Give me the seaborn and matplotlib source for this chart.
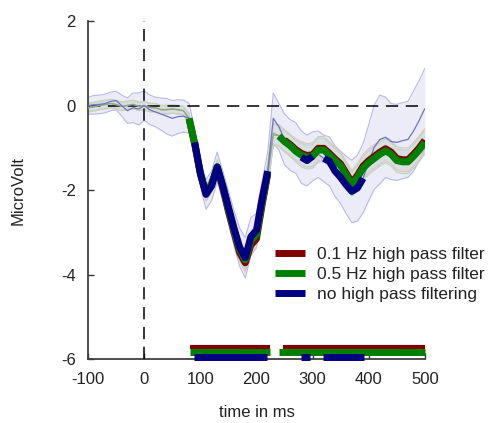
import numpy as np
import pandas as pd
import matplotlib
matplotlib.use("Agg")
import matplotlib.pyplot as plt
from matplotlib.lines import Line2D
import seaborn as sns

# ---------------- data ----------------
time_ms = list(range(-100, 501, 10))

v_nohp = [0.00, 0.02, 0.03, 0.05, 0.10, 0.12, 0.00, -0.12, -0.05, -0.08,
          0.00, -0.10, -0.15, -0.20, -0.25, -0.30, -0.26, -0.25, -0.30, -0.87,
          -1.60, -2.10, -1.90, -1.45, -1.90, -2.40, -2.90, -3.35, -3.60, -3.10,
          -2.95, -2.20, -1.55, -0.30, -0.50, -0.80, -0.93, -1.00, -1.22, -1.30,
          -1.20, -1.15, -1.25, -1.32, -1.55, -1.70, -1.88, -2.03, -1.95, -1.72,
          -1.35, -0.98, -0.80, -0.75, -0.85, -0.87, -0.83, -0.80, -0.60, -0.35,
          -0.07]

v_05 = [-0.05, -0.03, 0.00, 0.02, 0.05, 0.03, -0.02, 0.00, 0.03, -0.02,
        0.00, -0.05, -0.05, -0.10, -0.10, -0.08, -0.10, -0.12, -0.30, -0.90,
        -1.60, -2.05, -1.85, -1.45, -1.90, -2.45, -2.95, -3.40, -3.65, -3.20,
        -3.05, -2.30, -1.60, -0.65, -0.72, -0.85, -0.95, -1.08, -1.17, -1.22,
        -1.20, -1.05, -1.05, -1.17, -1.30, -1.42, -1.65, -1.87, -1.70, -1.48,
        -1.35, -1.25, -1.15, -1.07, -1.15, -1.30, -1.33, -1.33, -1.20, -1.05,
        -0.87]

v_01 = [-0.04, -0.02, 0.01, 0.03, 0.05, 0.02, -0.02, 0.01, 0.03, -0.01,
        0.00, -0.04, -0.05, -0.09, -0.09, -0.08, -0.09, -0.12, -0.32, -0.92,
        -1.62, -2.08, -1.88, -1.47, -1.95, -2.50, -3.00, -3.48, -3.72, -3.30,
        -3.15, -2.35, -1.62, -0.70, -0.70, -0.82, -0.92, -1.04, -1.13, -1.18,
        -1.16, -1.01, -1.01, -1.13, -1.26, -1.38, -1.60, -1.82, -1.65, -1.43,
        -1.30, -1.20, -1.10, -1.02, -1.10, -1.25, -1.28, -1.28, -1.15, -1.00,
        -0.82]

ci_nohp = [0.20, 0.22, 0.22, 0.22, 0.22, 0.22, 0.25, 0.30, 0.35, 0.38,
           0.35, 0.35, 0.35, 0.38, 0.42, 0.42, 0.40, 0.38, 0.35, 0.30,
           0.30, 0.35, 0.35, 0.35, 0.35, 0.38, 0.42, 0.45, 0.48, 0.45,
           0.40, 0.40, 0.45, 0.60, 0.55, 0.60, 0.60, 0.60, 0.62, 0.60,
           0.58, 0.55, 0.55, 0.58, 0.60, 0.62, 0.68, 0.74, 0.78, 0.82,
           0.90, 1.00, 1.05, 0.95, 0.90, 0.90, 0.90, 0.90, 0.95, 0.95,
           0.95]

ci_05 = [0.10, 0.10, 0.10, 0.10, 0.10, 0.10, 0.10, 0.10, 0.10, 0.10,
         0.10, 0.10, 0.10, 0.10, 0.10, 0.10, 0.10, 0.10, 0.12, 0.15,
         0.15, 0.18, 0.18, 0.18, 0.18, 0.18, 0.20, 0.20, 0.22, 0.22,
         0.22, 0.22, 0.22, 0.25, 0.25, 0.25, 0.25, 0.25, 0.28, 0.28,
         0.28, 0.28, 0.28, 0.28, 0.28, 0.28, 0.28, 0.28, 0.28, 0.28,
         0.28, 0.28, 0.28, 0.28, 0.28, 0.28, 0.28, 0.28, 0.28, 0.28,
         0.28]

ci_01 = [0.10, 0.10, 0.10, 0.10, 0.10, 0.10, 0.10, 0.10, 0.10, 0.10,
         0.10, 0.10, 0.10, 0.10, 0.10, 0.10, 0.10, 0.10, 0.12, 0.15,
         0.15, 0.18, 0.18, 0.18, 0.18, 0.18, 0.20, 0.20, 0.22, 0.22,
         0.22, 0.22, 0.22, 0.25, 0.25, 0.25, 0.25, 0.25, 0.28, 0.28,
         0.28, 0.28, 0.28, 0.28, 0.28, 0.28, 0.28, 0.28, 0.28, 0.28,
         0.28, 0.28, 0.28, 0.28, 0.28, 0.28, 0.28, 0.28, 0.28, 0.28,
         0.28]

sig_01 = [(82, 225), (248, 500)]
sig_05 = [(82, 225), (241, 500)]
sig_nohp = [(89, 218), (280, 296), (319, 391)]

labels = ["0.1 Hz high pass filter", "0.5 Hz high pass filter", "no high pass filtering"]
colors = ["#800000", "#008000", "#000080"]

x_ticks = [-100, 0, 100, 200, 300, 400, 500]
y_ticks = [-6, -4, -2, 0, 2]

# ---------------- style ----------------
sns.set_theme(style="ticks")
plt.rcParams["font.family"] = ["Liberation Sans", "DejaVu Sans"]

fig = plt.figure(figsize=(4.98, 4.23), dpi=100)
ax = fig.add_axes([0.177, 0.151, 0.676, 0.799])

t = np.array(time_ms)
series = [np.array(v_01), np.array(v_05), np.array(v_nohp)]
cis = [np.array(ci_01), np.array(ci_05), np.array(ci_nohp)]
sigs = [sig_01, sig_05, sig_nohp]

# confidence bands: no-HP first (widest), then the others
band_face = ["#b0b0a8", "#9cbc9c", "#a0a0e0"]
band_alpha = [0.12, 0.14, 0.2]
band_edge = ["#e0c4c4", "#bcd8bc", "#b8b8e8"]
for i in [2, 0, 1]:
    lo = series[i] - cis[i]
    hi = series[i] + cis[i]
    ax.fill_between(t, lo, hi, color=band_face[i], alpha=band_alpha[i], lw=0, zorder=1)
    sns.lineplot(x=t, y=lo, ax=ax, color=band_edge[i], lw=0.8, zorder=2)
    sns.lineplot(x=t, y=hi, ax=ax, color=band_edge[i], lw=0.8, zorder=2)

# reference dashed lines
ax.axhline(0, color="black", lw=1.1, ls=(0, (8, 5)), zorder=3)
ax.axvline(0, color="black", lw=1.1, ls=(0, (8, 5)), zorder=3)

# thin full-length lines
thin_col = ["#c89090", "#80b080", "#7070c8"]
for i in range(3):
    sns.lineplot(x=t, y=series[i], ax=ax, color=thin_col[i], lw=0.9, zorder=4)

# thick lines where significant
for i in range(3):
    for (s, e) in sigs[i]:
        s10 = int(round(s / 10.0)) * 10
        e10 = int(round(e / 10.0)) * 10
        m = (t >= s10) & (t <= e10)
        sns.lineplot(x=t[m], y=series[i][m], ax=ax, color=colors[i], lw=5,
                     zorder=5 + i, solid_capstyle="butt")

# significance bars at bottom
bar_y = [-5.72, -5.84, -5.95]
bar_lw = [3.0, 5.0, 5.0]
for i in range(3):
    for (s, e) in sigs[i]:
        ax.plot([s, e], [bar_y[i], bar_y[i]], color=colors[i], lw=bar_lw[i],
                solid_capstyle="butt", clip_on=False, zorder=10 + i)

ax.set_xlim(-100, 500)
ax.set_ylim(-6, 2)
ax.set_xticks(x_ticks)
ax.set_yticks(y_ticks)
ax.set_xticklabels([str(v) for v in x_ticks])
ax.set_yticklabels([str(v) for v in y_ticks])
ax.tick_params(direction="in", length=4, width=1.0, color="#333333",
               labelsize=12, labelcolor="#222222", pad=9)
for side in ["top", "right"]:
    ax.spines[side].set_visible(False)
for side in ["left", "bottom"]:
    ax.spines[side].set_color("#404040")
    ax.spines[side].set_linewidth(1.3)
ax.grid(False)

ax.set_xlabel("time in ms", fontsize=12, color="#222222", labelpad=13)
ax.set_ylabel("MicroVolt", fontsize=12, color="#222222", labelpad=25)

handles = [Line2D([0], [0], color=c, lw=5, solid_capstyle="butt") for c in colors]
leg = ax.legend(handles, labels, loc="upper left", bbox_to_anchor=(0.555, 0.333),
                frameon=False, fontsize=12.5, handlelength=1.75, handletextpad=0.65,
                labelspacing=0.3, borderaxespad=0, borderpad=0)
for txt in leg.get_texts():
    txt.set_color("#222222")

fig.savefig("out.png", dpi=100)
